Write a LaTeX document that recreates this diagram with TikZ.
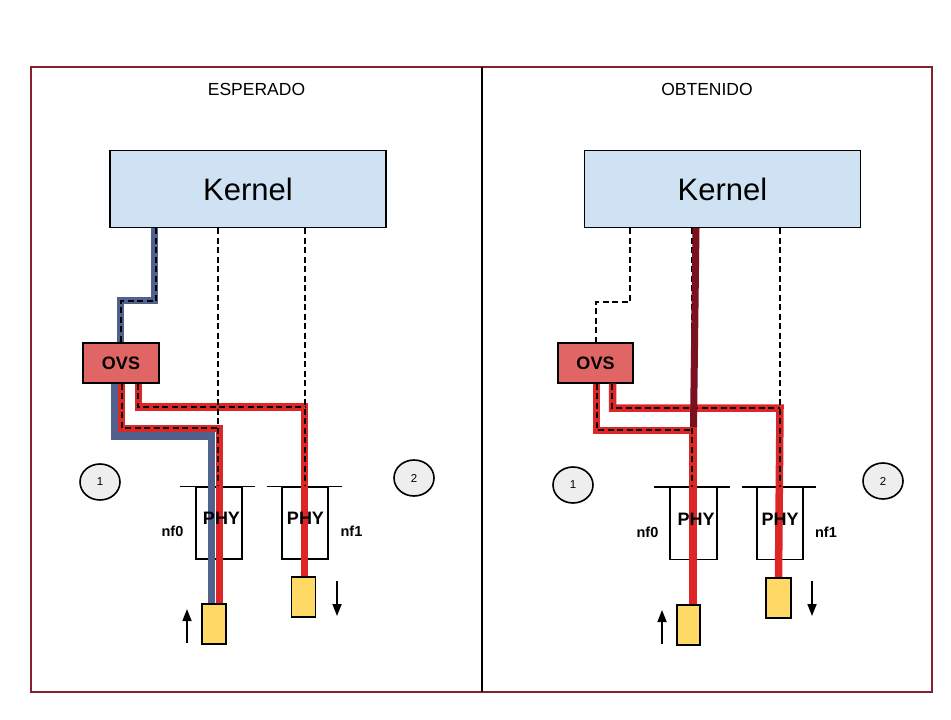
\documentclass[tikz,border=0pt]{standalone}
\usepackage{fontspec}
\setmainfont{Liberation Sans}
\usetikzlibrary{arrows.meta,shapes.geometric}
\definecolor{framecol}{HTML}{84202F}
\definecolor{kernelfill}{HTML}{CFE2F3}
\definecolor{ovsfill}{HTML}{E06666}
\definecolor{yellowfill}{HTML}{FFD966}
\definecolor{bluepath}{HTML}{50618E}
\definecolor{redpath}{HTML}{DF2626}
\definecolor{darkredpath}{HTML}{7A1020}
\definecolor{circfill}{HTML}{EEEEEE}
\begin{document}
\begin{tikzpicture}[x=1pt,y=-1pt,
  kernelbox/.style={draw=black,line width=1.4pt,fill=kernelfill,minimum width=276pt,minimum height=77pt,inner sep=0pt,
    font=\fontsize{31}{31}\selectfont},
  ovsbox/.style={draw=black,line width=1.4pt,fill=ovsfill,minimum width=76pt,minimum height=40pt,inner sep=0pt,
    font=\fontsize{18}{18}\selectfont\bfseries},
  phybox/.style={draw=black,line width=1.4pt,fill=white,minimum width=46pt,minimum height=72pt,inner sep=0pt},
  phytext/.style={font=\fontsize{18}{18}\selectfont\bfseries,inner sep=0pt},
  nftext/.style={font=\fontsize{14.5}{14.5}\selectfont\bfseries,inner sep=0pt},
  ybox/.style={draw=black,line width=1.4pt,fill=yellowfill,minimum width=24pt,minimum height=40pt,inner sep=0pt},
  numcirc/.style={ellipse,draw=black,line width=1.6pt,fill=circfill,minimum width=40pt,minimum height=36pt,inner sep=0pt,
    font=\fontsize{11.5}{11.5}\selectfont},
  titletext/.style={font=\fontsize{17.5}{17.5}\selectfont,inner sep=0pt},
  thickblue/.style={draw=bluepath,line width=7.5pt,miter limit=4},
  thickred/.style={draw=redpath,line width=7.5pt,miter limit=4},
  thickdark/.style={draw=darkredpath,line width=7pt},
  dashline/.style={draw=black,line width=1.5pt,dash pattern=on 6pt off 3.5pt},
  topline/.style={draw=black,line width=1.4pt},
  flowarrow/.style={draw=black,line width=1.7pt,-{Triangle[length=12pt,width=9pt]}}
]
\useasboundingbox (0,0) rectangle (951,720);
% frame and divider
\draw[framecol,line width=2pt] (31,67) rectangle (932,692);
\coordinate (divtop) at (482,67);
\coordinate (divbot) at (482,692);
\draw[black,line width=1.4pt] (divtop) -- (divbot);

% ================= LEFT PANEL =================
\node[titletext] (titleL) at (256.5,89) {ESPERADO};
\node[kernelbox] (kL) at (248,189) {Kernel};
\node[ovsbox] (ovsL) at (121,363) {OVS};
\node[phybox] (phyL0) at (219,523) {};
\node[phybox] (phyL1) at (305,523) {};
\draw[topline] (180,0 |- phyL0.north) -- (255,0 |- phyL0.north);
\draw[topline] (267,0 |- phyL1.north) -- (342,0 |- phyL1.north);
\node[ybox] (yL0) at (214,624) {};
\node[ybox] (yL1) at (303.5,597) {};

% thick paths
\draw[thickblue] (154.5,0 |- kL.south) -- (154.5,300.5) -- (120.5,300.5) -- (120.5,0 |- ovsL.north);
\draw[thickblue] (115,0 |- ovsL.south) -- (115,436) -- (211.5,436) -- (211.5,0 |- yL0.north);
\draw[thickred] (121.5,0 |- ovsL.south) -- (121.5,428.5) -- (219.5,428.5) -- (219.5,0 |- yL0.north);
\draw[thickred] (138.5,0 |- ovsL.south) -- (138.5,407) -- (304.5,407) -- (304.5,0 |- yL1.north);

% dashed paths
\draw[dashline] (156,0 |- kL.south) -- (156,301) -- (121,301) -- (121,0 |- ovsL.north);
\draw[dashline] (218,0 |- kL.south) -- (218,0 |- phyL0.north);
\draw[dashline] (305,0 |- kL.south) -- (305,0 |- phyL1.north);
\draw[dashline] (122,0 |- ovsL.south) -- (122,428) -- (218,428);
\draw[dashline] (138,0 |- ovsL.south) -- (138,407) -- (305,407);

% redraw yellow boxes on top
\node[ybox] at (yL0) {};
\node[ybox] at (yL1) {};
\node[phytext] (phyL0t) at (221.5,518.5) {PHY};
\node[phytext] (phyL1t) at (305.5,518.5) {PHY};
\node[nftext] (nfL0) at (172.5,531) {nf0};
\node[nftext] (nfL1) at (351.5,531) {nf1};
\node[numcirc] (cL1) at (100,482) {1};
\node[numcirc] (cL2) at (414,478) {2};
\coordinate (aL0s) at (187,643);
\coordinate (aL0e) at (187,609);
\coordinate (aL1s) at (337,581);
\coordinate (aL1e) at (337,616);
\draw[flowarrow] (aL0s) -- (aL0e);
\draw[flowarrow] (aL1s) -- (aL1e);

% ================= RIGHT PANEL =================
\node[titletext] (titleR) at (707,89) {OBTENIDO};
\node[kernelbox] (kR) at (722.5,189) {Kernel};
\node[ovsbox,minimum width=75pt] (ovsR) at (595.5,363) {OVS};
\node[phybox,minimum width=47pt] (phyR0) at (693.5,523.5) {};
\node[phybox] (phyR1) at (780,523.5) {};
\draw[topline] (654,0 |- phyR0.north) -- (730,0 |- phyR0.north);
\draw[topline] (742,0 |- phyR1.north) -- (816,0 |- phyR1.north);
\node[ybox,minimum width=23pt] (yR0) at (688.5,625) {};
\node[ybox,minimum width=25pt] (yR1) at (778.5,598) {};

\draw[dashline] (630,0 |- kR.south) -- (630,302) -- (596,302) -- (596,0 |- ovsR.north);
\draw[thickred] (596.5,0 |- ovsR.south) -- (596.5,430.5) -- (693,430.5) -- (693,0 |- yR0.north);
\draw[thickred] (612.5,0 |- ovsR.south) -- (612.5,408) -- (780,408) -- (778.5,0 |- yR1.north);
\draw[dashline] (692,0 |- kR.south) -- (692,0 |- phyR0.north);
\draw[dashline] (780,0 |- kR.south) -- (780,0 |- phyR1.north);
\draw[dashline] (597,0 |- ovsR.south) -- (597,430) -- (692,430);
\draw[dashline] (612,0 |- ovsR.south) -- (612,408) -- (780,408);
\draw[thickdark] (696,0 |- kR.south) -- (693.5,427);

\node[ybox,minimum width=23pt] at (yR0) {};
\node[ybox,minimum width=25pt] at (yR1) {};
\node[phytext] (phyR0t) at (696,519) {PHY};
\node[phytext] (phyR1t) at (780,519) {PHY};
\node[nftext] (nfR0) at (647.5,532) {nf0};
\node[nftext] (nfR1) at (826,532) {nf1};
\node[numcirc] (cR1) at (573,485) {1};
\node[numcirc] (cR2) at (883,481) {2};
\coordinate (aR0s) at (662,644);
\coordinate (aR0e) at (662,610);
\coordinate (aR1s) at (812,581);
\coordinate (aR1e) at (812,616);
\draw[flowarrow] (aR0s) -- (aR0e);
\draw[flowarrow] (aR1s) -- (aR1e);
\end{tikzpicture}
\end{document}
